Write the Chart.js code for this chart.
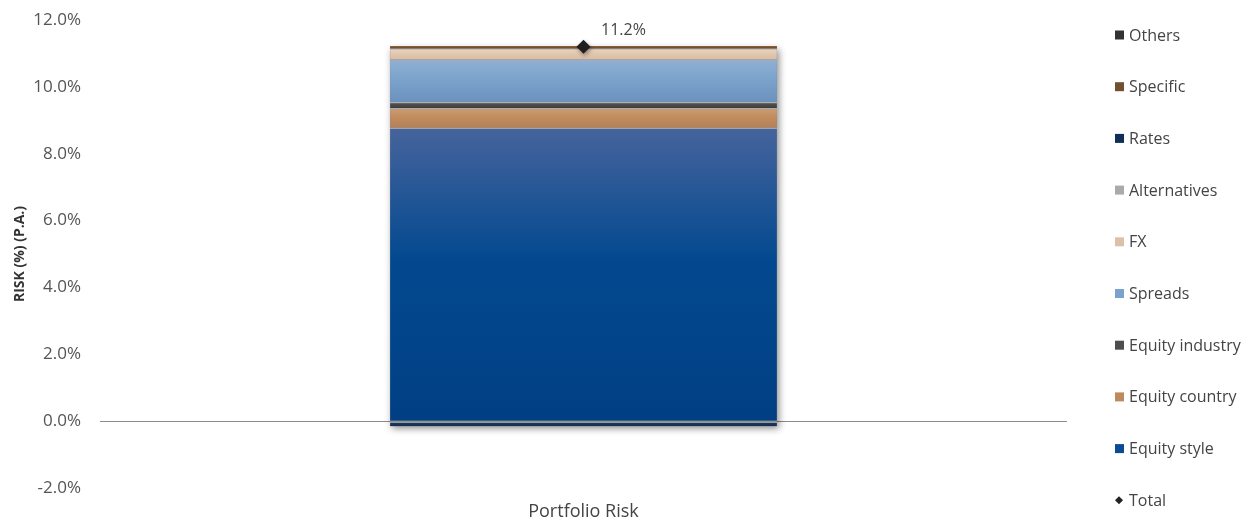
<!DOCTYPE html>
<html>
<head>
<meta charset="utf-8">
<title>Portfolio Risk</title>
<script src="https://cdn.jsdelivr.net/npm/chart.js@4.4.1/dist/chart.umd.min.js"></script>
<style>
  html, body { margin: 0; padding: 0; background: #fff; }
  #wrap { width: 1251px; height: 522px; }
</style>
</head>
<body>
<div id="wrap"><canvas id="riskChart" width="1251" height="522"></canvas></div>
<script>
// risk contribution per factor, % p.a.
const categories = ['Portfolio Risk'];
const seriesNames = ['Equity style', 'Equity country', 'Equity industry', 'Spreads', 'FX', 'Alternatives', 'Rates', 'Specific', 'Others'];
const equityStyle = [8.78];
const equityCountry = [0.58];
const equityIndustry = [0.18];
const spreads = [1.28];
const fx = [0.33];
const alternatives = [0.0];
const rates = [-0.15];
const specific = [0.07];
const others = [0.0];
const total = [11.2];
const yTicks = [-2, 0, 2, 4, 6, 8, 10, 12];

const seriesValues = [equityStyle, equityCountry, equityIndustry, spreads, fx, alternatives, rates, specific, others];

// [top stop, middle stop, bottom stop] for the bar shading, plus legend swatch
const shades = {
    'Equity style':    { stops: ['#46649c', '#03498f', '#013f84'], swatch: '#0c4b94' },
    'Equity country':  { stops: ['#cc9d72', '#c08c60', '#b58055'], swatch: '#bd8a5d' },
    'Equity industry': { stops: ['#5a5a5a', '#4a4a4a', '#3c3c3c'], swatch: '#4d4d4d' },
    'Spreads':         { stops: ['#91b0d4', '#7ca3cb', '#6a92be'], swatch: '#7aa2cb' },
    'FX':              { stops: ['#ecd5c1', '#e2c8b1', '#d9bca3'], swatch: '#dcc0a8' },
    'Alternatives':    { stops: ['#b5b5b5', '#aaaaaa', '#9f9f9f'], swatch: '#aaaaaa' },
    'Rates':           { stops: ['#24446c', '#1a375c', '#132d4d'], swatch: '#0f2f56' },
    'Specific':        { stops: ['#8c6642', '#7a5533', '#6c4828'], swatch: '#71502f' },
    'Others':          { stops: ['#3c3c3c', '#333333', '#2a2a2a'], swatch: '#333333' }
};

// where a segment starts and ends inside its stack
function segmentRange(dsIndex, idx) {
    const v = seriesValues[dsIndex][idx];
    let base = 0;
    for (let i = 0; i < dsIndex; i++) {
        const w = seriesValues[i][idx];
        if ((v >= 0 && w >= 0) || (v < 0 && w < 0)) base += w;
    }
    return [base, base + v];
}

function segmentFill(ctx) {
    const chart = ctx.chart;
    const name = seriesNames[ctx.datasetIndex];
    const s = shades[name];
    if (!chart.chartArea || !chart.scales.y || ctx.type !== 'data') return s.swatch;
    const [a, b] = segmentRange(ctx.datasetIndex, ctx.dataIndex);
    const y1 = chart.scales.y.getPixelForValue(Math.max(a, b));
    const y2 = chart.scales.y.getPixelForValue(Math.min(a, b));
    if (Math.abs(y2 - y1) < 1) return s.stops[1];
    const g = chart.ctx.createLinearGradient(0, y1, 0, y2);
    g.addColorStop(0, s.stops[0]);
    g.addColorStop(0.45, s.stops[1]);
    g.addColorStop(1, s.stops[2]);
    return g;
}

const barSets = seriesNames.map((name, i) => ({
    type: 'bar',
    label: name,
    data: seriesValues[i],
    backgroundColor: segmentFill,
    borderColor: 'rgba(255,255,255,0.55)',
    borderWidth: (name === 'Specific' || name === 'Others') ? 0 : { top: 1, left: 0, right: 0, bottom: 0 },
    borderSkipped: false,
    stack: 'risk',
    barPercentage: 0.5,
    categoryPercentage: 0.8,
    order: 2
}));

const totalSet = {
    type: 'line',
    label: 'Total',
    data: total,
    showLine: false,
    pointStyle: 'rectRot',
    pointRadius: 7,
    pointHoverRadius: 7,
    pointBackgroundColor: '#1f1f1f',
    pointBorderColor: '#1f1f1f',
    pointBorderWidth: 0,
    order: 1
};

const FONT = "'Open Sans', 'Noto Sans', sans-serif";

// soft drop shadow behind the whole stacked column
const barShadow = {
    id: 'barShadow',
    beforeDatasetsDraw(chart) {
        let left = null, right = null, top = Infinity, bottom = -Infinity;
        chart.data.datasets.forEach((ds, i) => {
            if (ds.type !== 'bar') return;
            chart.getDatasetMeta(i).data.forEach(el => {
                const p = el.getProps(['x', 'y', 'base', 'width'], true);
                left = p.x - p.width / 2;
                right = p.x + p.width / 2;
                top = Math.min(top, p.y, p.base);
                bottom = Math.max(bottom, p.y, p.base);
            });
        });
        if (left === null) return;
        const c = chart.ctx;
        c.save();
        c.shadowColor = 'rgba(0,0,0,0.45)';
        c.shadowBlur = 7;
        c.shadowOffsetX = 2;
        c.shadowOffsetY = 3;
        c.fillStyle = '#8a8a8a';
        c.fillRect(left, top, right - left, bottom - top);
        c.restore();
    },
    beforeDatasetDraw(chart, args) {
        if (chart.data.datasets[args.index].type !== 'line') return;
        const c = chart.ctx;
        c.save();
        c.shadowColor = 'rgba(0,0,0,0.4)';
        c.shadowBlur = 4;
        c.shadowOffsetX = 1;
        c.shadowOffsetY = 2;
    },
    afterDatasetDraw(chart, args) {
        if (chart.data.datasets[args.index].type !== 'line') return;
        chart.ctx.restore();
    }
};

// value label next to the total marker
const totalLabel = {
    id: 'totalLabel',
    afterDatasetsDraw(chart) {
        const idx = chart.data.datasets.findIndex(d => d.label === 'Total');
        const c = chart.ctx;
        chart.getDatasetMeta(idx).data.forEach((pt, i) => {
            c.save();
            c.font = '16px ' + FONT;
            c.fillStyle = '#444';
            c.textAlign = 'center';
            c.textBaseline = 'middle';
            c.fillText(total[i].toFixed(1) + '%', pt.x + 40, pt.y - 16);
            c.restore();
        });
    }
};

// legend column on the right
const sideLegend = {
    id: 'sideLegend',
    afterDraw(chart) {
        const order = ['Others', 'Specific', 'Rates', 'Alternatives', 'FX', 'Spreads', 'Equity industry', 'Equity country', 'Equity style', 'Total'];
        const c = chart.ctx;
        const boxX = chart.width - 136;
        const firstY = 35;
        const step = 51.7;
        c.save();
        c.font = '16px ' + FONT;
        c.textBaseline = 'middle';
        c.textAlign = 'left';
        order.forEach((name, i) => {
            const y = firstY + i * step;
            if (name === 'Total') {
                c.fillStyle = '#222';
                c.beginPath();
                c.moveTo(boxX + 4, y - 4);
                c.lineTo(boxX + 8, y);
                c.lineTo(boxX + 4, y + 4);
                c.lineTo(boxX, y);
                c.closePath();
                c.fill();
            } else {
                c.fillStyle = shades[name].swatch;
                c.fillRect(boxX, y - 4.5, 9, 9);
            }
            c.fillStyle = '#444';
            c.fillText(name, boxX + 14, y + 1);
        });
        c.restore();
    }
};

new Chart(document.getElementById('riskChart'), {
    data: {
        labels: categories,
        datasets: [...barSets, totalSet]
    },
    options: {
        responsive: false,
        animation: false,
        devicePixelRatio: 1,
        layout: {
            autoPadding: false,
            padding: { top: 20, right: 184, left: 0, bottom: 0 }
        },
        plugins: {
            legend: { display: false },
            tooltip: { enabled: false }
        },
        scales: {
            x: {
                stacked: true,
                afterFit(scale) {
                    scale.height = 34;
                },
                grid: { display: false, drawTicks: false },
                border: { display: false },
                ticks: {
                    color: '#444',
                    padding: 13,
                    font: { family: FONT, size: 18 }
                }
            },
            y: {
                stacked: true,
                min: yTicks[0],
                max: yTicks[yTicks.length - 1],
                afterBuildTicks(scale) {
                    scale.ticks = yTicks.map(v => ({ value: v }));
                },
                // fixed axis width, and no extra room above/below for the end labels
                afterFit(scale) {
                    scale.width = 100;
                    scale.paddingTop = 0;
                    scale.paddingBottom = 0;
                },
                border: { display: false },
                grid: {
                    drawTicks: false,
                    lineWidth: 1,
                    color: ctx => (ctx.tick && ctx.tick.value === 0) ? '#8c8c8c' : 'rgba(0,0,0,0)'
                },
                ticks: {
                    color: '#555',
                    padding: 19,
                    font: { family: FONT, size: 17 },
                    callback: v => v.toFixed(1) + '%'
                },
                title: {
                    display: true,
                    text: 'RISK (%) (P.A.)',
                    color: '#333',
                    padding: { top: 12, bottom: 0 },
                    font: { family: FONT, size: 14, weight: 'bold' }
                }
            }
        }
    },
    plugins: [barShadow, totalLabel, sideLegend]
});
</script>
</body>
</html>
